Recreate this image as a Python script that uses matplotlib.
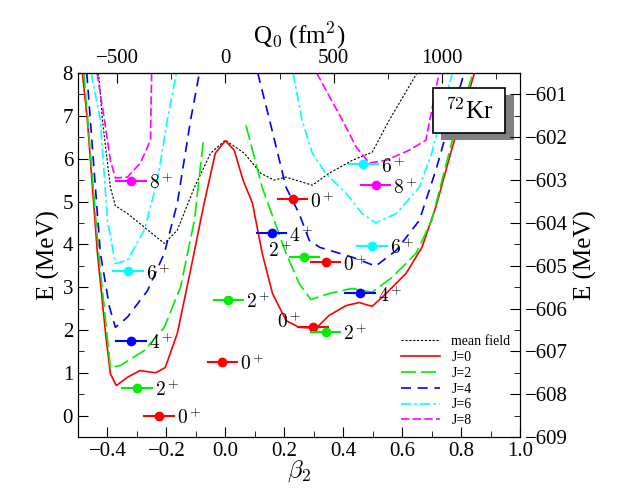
import matplotlib
matplotlib.use("Agg")
import matplotlib.pyplot as plt
from matplotlib.ticker import MultipleLocator
from matplotlib.patches import Rectangle

plt.rcParams["font.family"] = ["Liberation Serif", "DejaVu Serif"]
plt.rcParams["mathtext.fontset"] = "cm"

# potential energy curves (beta2, E in MeV)
mf_b = [-0.43, -0.417, -0.39, -0.373, -0.332, -0.275, -0.207, -0.163, -0.105, -0.05, 0.0, 0.064, 0.12,
        0.165, 0.206, 0.295, 0.352, 0.43, 0.498, 0.556, 0.65]
mf_e = [8.0, 6.9, 5.33, 4.9, 4.72, 4.4, 4.02, 4.33, 5.33, 6.13, 6.43, 6.13, 5.66,
        5.5, 5.57, 5.38, 5.66, 5.96, 6.15, 6.9, 8.0]

j0_b = [-0.485, -0.468, -0.434, -0.405, -0.39, -0.37, -0.333, -0.29, -0.236, -0.204, -0.163, -0.118,
        -0.072, -0.034, 0.0, 0.03, 0.06, 0.092, 0.125, 0.16, 0.206, 0.25, 0.308, 0.352, 0.41, 0.454,
        0.498, 0.545, 0.613, 0.667, 0.714, 0.77, 0.845]
j0_e = [8.0, 6.9, 3.8, 1.83, 0.98, 0.70, 0.89, 1.05, 1.0, 1.12, 1.92, 3.4,
        4.96, 6.13, 6.42, 6.2, 5.5, 4.96, 3.79, 2.85, 2.22, 2.06, 2.04, 2.34, 2.57, 2.64,
        2.55, 2.85, 3.32, 3.93, 4.87, 6.27, 8.0]

j2_lb = [-0.48, -0.43, -0.39, -0.356, -0.275, -0.207, -0.152, -0.105, -0.075]
j2_le = [8.0, 3.8, 1.12, 1.17, 1.52, 2.06, 3.0, 4.56, 6.4]
j2_rb = [0.07, 0.125, 0.206, 0.25, 0.29, 0.352, 0.43, 0.498, 0.566, 0.647, 0.70, 0.77, 0.84]
j2_re = [6.78, 5.33, 3.79, 3.09, 2.71, 2.85, 2.97, 2.88, 3.23, 3.79, 4.56, 6.43, 8.0]

j4_lb = [-0.47, -0.458, -0.424, -0.393, -0.373, -0.332, -0.264, -0.207, -0.163, -0.118, -0.088]
j4_le = [8.0, 6.9, 3.79, 2.53, 2.06, 2.3, 2.92, 3.79, 4.96, 6.9, 8.0]
j4_rb = [0.11, 0.15, 0.206, 0.25, 0.285, 0.32, 0.43, 0.51, 0.58, 0.658, 0.714, 0.75, 0.81]
j4_re = [8.0, 6.9, 5.33, 4.72, 4.09, 3.93, 3.7, 3.49, 3.86, 4.56, 5.73, 6.6, 8.0]

j6_lb = [-0.455, -0.424, -0.4, -0.373, -0.332, -0.275, -0.23, -0.197, -0.166]
j6_le = [8.0, 6.9, 4.56, 3.55, 3.63, 4.33, 5.5, 6.9, 8.0]
j6_rb = [0.23, 0.26, 0.295, 0.34, 0.41, 0.464, 0.51, 0.58, 0.658, 0.70, 0.77]
j6_re = [8.0, 6.9, 6.13, 5.66, 5.19, 4.72, 4.5, 4.72, 5.33, 6.13, 8.0]

j8_lb = [-0.435, -0.41, -0.39, -0.373, -0.332, -0.288, -0.254, -0.25]
j8_le = [8.0, 6.9, 5.96, 5.55, 5.57, 5.9, 6.43, 8.0]
j8_rb = [0.31, 0.397, 0.444, 0.488, 0.545, 0.624, 0.68, 0.725]
j8_re = [8.0, 6.9, 6.27, 5.9, 5.96, 6.2, 6.43, 8.0]

# states: beta, E, colour, spin, label side
st_b = [-0.225, -0.30, -0.32, -0.33, -0.32, -0.01, 0.01, 0.228, 0.157, 0.268, 0.34, 0.298, 0.34,
        0.468, 0.51, 0.497, 0.457]
st_e = [0.0, 0.65, 1.75, 3.37, 5.48, 1.26, 2.71, 5.05, 4.26, 3.7, 3.58, 2.06, 1.95,
        5.87, 5.38, 3.96, 2.86]
st_c = ["red", "#00ee00", "blue", "cyan", "magenta", "red", "#00ee00", "red", "blue", "#00ee00", "red",
        "red", "#00ee00", "cyan", "magenta", "cyan", "blue"]
st_l = ["0", "2", "4", "6", "8", "0", "2", "0", "4", "2", "0", "0", "2", "6", "8", "6", "4"]
st_side = ["r", "r", "r", "r", "r", "r", "r", "r", "r", "l", "r", "l", "r", "r", "r", "r", "r"]

fig = plt.figure(figsize=(6.39, 5.04), dpi=100)
ax = fig.add_axes([0.122, 0.133, 0.692, 0.722])

ax.plot(mf_b, mf_e, color="black", ls=(0, (2, 1.5)), lw=0.8, label="mean field")
ax.plot(j0_b, j0_e, color="red", lw=1.2, label="J=0")
ax.plot(j2_lb, j2_le, color="#00ee00", lw=1.2, ls=(0, (9, 3)), label="J=2")
ax.plot(j2_rb, j2_re, color="#00ee00", lw=1.2, ls=(0, (9, 3)))
ax.plot(j4_lb, j4_le, color="blue", lw=1.2, ls=(0, (6, 4)), label="J=4")
ax.plot(j4_rb, j4_re, color="blue", lw=1.2, ls=(0, (6, 4)))
ax.plot(j6_lb, j6_le, color="cyan", lw=1.2, ls=(0, (6, 2, 1.5, 2)), label="J=6")
ax.plot(j6_rb, j6_re, color="cyan", lw=1.2, ls=(0, (6, 2, 1.5, 2)))
ax.plot(j8_lb, j8_le, color="magenta", lw=1.2, ls=(0, (5, 2)), label="J=8")
ax.plot(j8_rb, j8_re, color="magenta", lw=1.2, ls=(0, (5, 2)))

for b, e, c, l, s in zip(st_b, st_e, st_c, st_l, st_side):
    ax.plot([b - 0.05, b + 0.05], [e, e], color=c, lw=1.5)
    ax.plot(b, e, "o", color=c, ms=6)
    if s == "r":
        ax.text(b + 0.06, e - 0.05, f"${l}^+$", fontsize=14, va="center", ha="left")
    else:
        ax.text(b - 0.04, e - 0.1, f"${l}^+$", fontsize=14, va="bottom", ha="right")

ax.set_xlim(-0.5, 1.0)
ax.set_ylim(-0.5, 8)
ax.xaxis.set_major_locator(MultipleLocator(0.2))
ax.xaxis.set_minor_locator(MultipleLocator(0.1))
ax.yaxis.set_major_locator(MultipleLocator(1))
ax.yaxis.set_minor_locator(MultipleLocator(0.5))
ax.tick_params(which="both", direction="in", labelsize=15)
ax.tick_params(which="major", length=7)
ax.tick_params(which="minor", length=4)
ax.set_xlabel(r"$\beta_2$", fontsize=18, labelpad=-2)
ax.set_ylabel("E (MeV)", fontsize=18, labelpad=2)

ax2 = ax.twinx()
ax2.set_ylim(-0.5 - 608.5, 8 - 608.5)
ax2.yaxis.set_minor_locator(MultipleLocator(0.5))
ax2.set_yticks(range(-609, -600))
ax2.tick_params(which="both", direction="in", labelsize=15)
ax2.tick_params(which="major", length=7)
ax2.tick_params(which="minor", length=4)
ax2.set_ylabel("E (MeV)", fontsize=18)

top = ax.secondary_xaxis("top", functions=(lambda b: b * 1360, lambda q: q / 1360))
top.xaxis.set_major_locator(MultipleLocator(500))
top.xaxis.set_minor_locator(MultipleLocator(250))
top.tick_params(which="both", direction="in", labelsize=15)
top.tick_params(which="major", length=7)
top.tick_params(which="minor", length=4)
top.set_xlabel(r"Q$_0$ (fm$^2$)", fontsize=18)

# nucleus label box with grey shadow
ax.add_patch(Rectangle((0.82, 0.815), 0.165, 0.125, transform=ax.transAxes, fc="gray", ec="none", zorder=5))
ax.add_patch(Rectangle((0.803, 0.835), 0.163, 0.124, transform=ax.transAxes, fc="white", ec="black",
                       lw=1.2, zorder=6))
ax.text(0.884, 0.897, r"$^{72}$Kr", transform=ax.transAxes, fontsize=18, ha="center", va="center", zorder=7)

ax.legend(loc="lower right", fontsize=10, frameon=False, handlelength=2.8, labelspacing=0.2,
          borderaxespad=0.3)

fig.savefig("out.png", dpi=100)
